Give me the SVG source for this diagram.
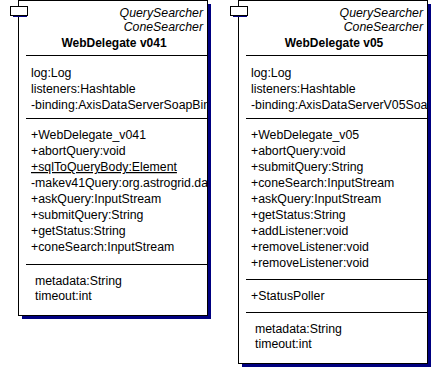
<svg xmlns="http://www.w3.org/2000/svg" width="441" height="367" viewBox="0 0 441 367">
  <style>
    .shadow { fill: #000080; }
    .box { fill: #ffffff; stroke: #000000; stroke-width: 1; }
    .sep { stroke: #000000; stroke-width: 1; }
    text { font-family: "Liberation Sans", Arial, sans-serif; font-size: 12.3px; fill: #000000; }
    .stereo { font-style: italic; text-anchor: end; }
    .title { font-weight: bold; text-anchor: middle; font-size: 12px; }
    .ul { text-decoration: underline; }
  </style>
  <defs>
    <clipPath id="clipLeft"><rect x="19" y="1" width="188" height="314"/></clipPath>
    <clipPath id="clipRight"><rect x="239" y="1" width="188" height="362"/></clipPath>
  </defs>

  <!-- class WebDelegate v041 -->
  <g id="webdelegate-v041">
    <rect class="shadow" x="22" y="4" width="189" height="315"/>
    <rect class="box" x="18.5" y="0.5" width="189" height="315"/>
    <rect class="shadow" x="13" y="15" width="14" height="2"/>
    <rect class="box" x="10.5" y="6.5" width="17" height="9"/>
    <g clip-path="url(#clipLeft)">
      <text class="stereo" x="203" y="17">QuerySearcher</text>
      <text class="stereo" x="203" y="31">ConeSearcher</text>
      <text class="title" x="114" y="47">WebDelegate v041</text>
      <line class="sep" x1="26" y1="55.5" x2="207" y2="55.5"/>
      <text x="31" y="77">log:Log</text>
      <text x="31" y="93">listeners:Hashtable</text>
      <text x="31" y="109">-binding:AxisDataServerSoapBin</text>
      <line class="sep" x1="26" y1="118.5" x2="207" y2="118.5"/>
      <text x="31" y="139">+WebDelegate_v041</text>
      <text x="31" y="155">+abortQuery:void</text>
      <text class="ul" x="31" y="171">+sqlToQueryBody:Element</text>
      <text x="31" y="187">-makev41Query:org.astrogrid.da</text>
      <text x="31" y="203">+askQuery:InputStream</text>
      <text x="31" y="219">+submitQuery:String</text>
      <text x="31" y="235">+getStatus:String</text>
      <text x="31" y="251">+coneSearch:InputStream</text>
      <line class="sep" x1="26" y1="264.5" x2="207" y2="264.5"/>
      <text x="35" y="285">metadata:String</text>
      <text x="35" y="300">timeout:int</text>
    </g>
  </g>

  <!-- class WebDelegate v05 -->
  <g id="webdelegate-v05">
    <rect class="shadow" x="242" y="4" width="189" height="363"/>
    <rect class="box" x="238.5" y="0.5" width="189" height="363"/>
    <rect class="shadow" x="233" y="15" width="14" height="2"/>
    <rect class="box" x="230.5" y="6.5" width="17" height="9"/>
    <g clip-path="url(#clipRight)">
      <text class="stereo" x="423" y="17">QuerySearcher</text>
      <text class="stereo" x="423" y="31">ConeSearcher</text>
      <text class="title" x="334" y="47">WebDelegate v05</text>
      <line class="sep" x1="246" y1="55.5" x2="427" y2="55.5"/>
      <text x="251" y="77">log:Log</text>
      <text x="251" y="93">listeners:Hashtable</text>
      <text x="251" y="109">-binding:AxisDataServerV05Soa</text>
      <line class="sep" x1="246" y1="118.5" x2="427" y2="118.5"/>
      <text x="251" y="139">+WebDelegate_v05</text>
      <text x="251" y="155">+abortQuery:void</text>
      <text x="251" y="171">+submitQuery:String</text>
      <text x="251" y="187">+coneSearch:InputStream</text>
      <text x="251" y="203">+askQuery:InputStream</text>
      <text x="251" y="219">+getStatus:String</text>
      <text x="251" y="235">+addListener:void</text>
      <text x="251" y="251">+removeListener:void</text>
      <text x="251" y="267">+removeListener:void</text>
      <line class="sep" x1="246" y1="279.5" x2="427" y2="279.5"/>
      <text x="251" y="300">+StatusPoller</text>
      <line class="sep" x1="246" y1="312.5" x2="427" y2="312.5"/>
      <text x="255" y="333">metadata:String</text>
      <text x="255" y="348">timeout:int</text>
    </g>
  </g>

  <g id="connectors"/>
</svg>
